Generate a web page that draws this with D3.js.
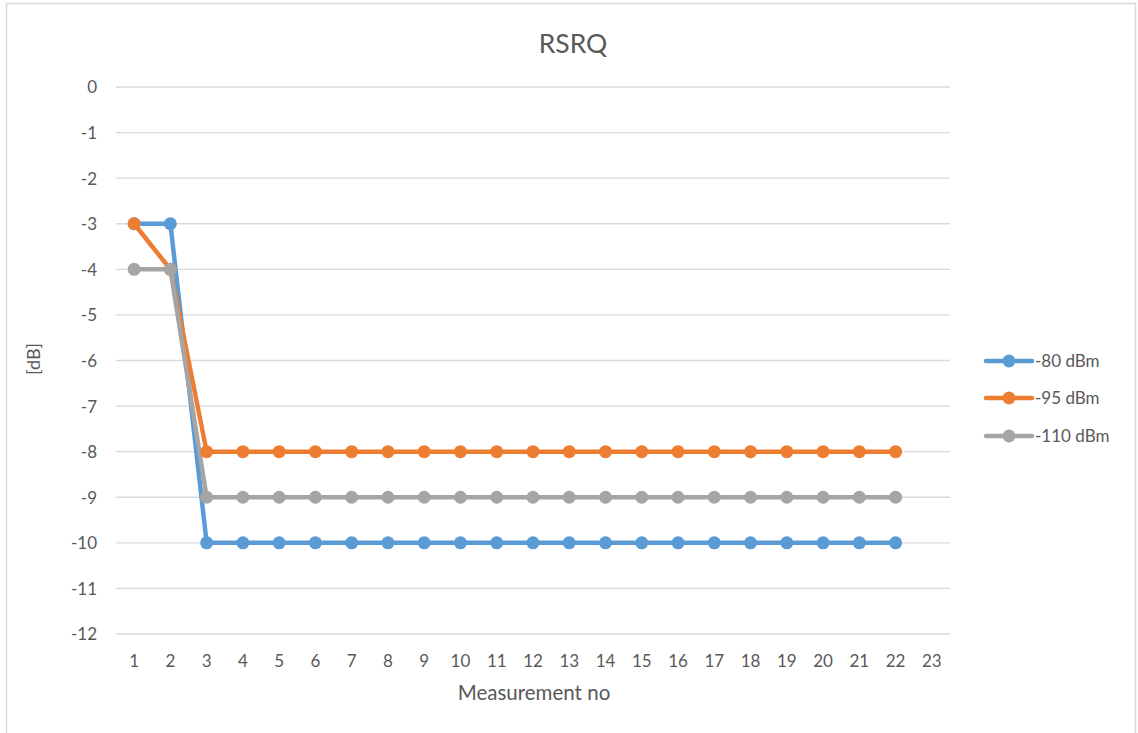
<!DOCTYPE html>
<html><head><meta charset="utf-8">
<script src="https://cdn.jsdelivr.net/npm/d3@7"></script>
<style>body{margin:0;background:#fff;} text{font-family:Lato,"Open Sans",sans-serif;}</style>
</head><body>
<svg id="c" width="1138" height="733"></svg>
<script>
const categories = d3.range(1, 24).map(String);
const seriesNames = ["-80 dBm", "-95 dBm", "-110 dBm"];
const s80 = [-3, -3, -10, -10, -10, -10, -10, -10, -10, -10, -10, -10, -10, -10, -10, -10, -10, -10, -10, -10, -10, -10];
const s95 = [-3, -4, -8, -8, -8, -8, -8, -8, -8, -8, -8, -8, -8, -8, -8, -8, -8, -8, -8, -8, -8, -8];
const s110 = [-4, -4, -9, -9, -9, -9, -9, -9, -9, -9, -9, -9, -9, -9, -9, -9, -9, -9, -9, -9, -9, -9];
const yTicks = d3.range(0, -13, -1);
const colors = ["#5b9bd5", "#ed7d31", "#a5a5a5"];
const series = [s80, s95, s110];

const svg = d3.select("#c");
svg.append("rect").attr("x", 6.5).attr("y", 3.5).attr("width", 1129).attr("height", 740)
  .attr("fill", "#fff").attr("stroke", "#d9d9d9").attr("stroke-width", 1.5);

const L = 116, R = 950, T = 87, B = 634;
const x = d3.scaleBand().domain(categories).range([L, R]);
const y = d3.scaleLinear().domain([-12, 0]).range([B, T]);
const cx = c => x(c) + x.bandwidth() / 2;

// gridlines
svg.append("g").selectAll("line").data(yTicks).join("line")
  .attr("x1", L).attr("x2", R).attr("y1", d => y(d)).attr("y2", d => y(d))
  .attr("stroke", "#d9d9d9").attr("stroke-width", 1.3);

// y axis labels
const yAxis = d3.axisLeft(y).tickValues(yTicks).tickSize(0).tickPadding(19).tickFormat(d => String(d));
const gy = svg.append("g").attr("transform", `translate(${L},0)`).call(yAxis);
gy.select(".domain").remove();
gy.selectAll("text").attr("fill", "#595959").style("font-size", "17px").attr("dy", "0.35em");

// x axis labels
const xAxis = d3.axisBottom(x).tickSize(0).tickPadding(0);
const gx = svg.append("g").attr("transform", `translate(0,${B + 27})`).call(xAxis);
gx.select(".domain").remove();
gx.selectAll("text").attr("fill", "#595959").style("font-size", "17px").attr("dy", "0.35em").attr("y", 0);

// title
svg.append("text").attr("x", 573).attr("y", 44).attr("text-anchor", "middle").attr("dy", "0.35em")
  .attr("fill", "#595959").style("font-size", "26.5px").text("RSRQ");
svg.append("text").attr("x", 534).attr("y", 693).attr("text-anchor", "middle").attr("dy", "0.35em")
  .attr("fill", "#595959").style("font-size", "20.5px").text("Measurement no");
svg.append("text").attr("transform", "translate(34,359) rotate(-90)").attr("text-anchor", "middle").attr("dy", "0.35em")
  .attr("fill", "#595959").style("font-size", "18px").text("[dB]");

// lines
const line = d3.line().x((d, i) => cx(categories[i])).y(d => y(d));
series.forEach((s, k) => {
  svg.append("path").datum(s).attr("d", line).attr("fill", "none")
    .attr("stroke", colors[k]).attr("stroke-width", 4.5).attr("stroke-linejoin", "round").attr("stroke-linecap", "round");
});
series.forEach((s, k) => {
  svg.append("g").selectAll("circle").data(s).join("circle")
    .attr("cx", (d, i) => cx(categories[i])).attr("cy", d => y(d)).attr("r", 6.5).attr("fill", colors[k]);
});

// legend
const legY = [361, 398, 436];
seriesNames.forEach((n, k) => {
  const g = svg.append("g").attr("transform", `translate(0,${legY[k]})`);
  g.append("line").attr("x1", 986).attr("x2", 1032).attr("y1", 0).attr("y2", 0)
    .attr("stroke", colors[k]).attr("stroke-width", 4.5).attr("stroke-linecap", "round");
  g.append("circle").attr("cx", 1009).attr("cy", 0).attr("r", 6.5).attr("fill", colors[k]);
  g.append("text").attr("x", 1035).attr("y", 0).attr("dy", "0.35em").attr("fill", "#595959")
    .style("font-size", "17px").text(n);
});
</script>
</body></html>
